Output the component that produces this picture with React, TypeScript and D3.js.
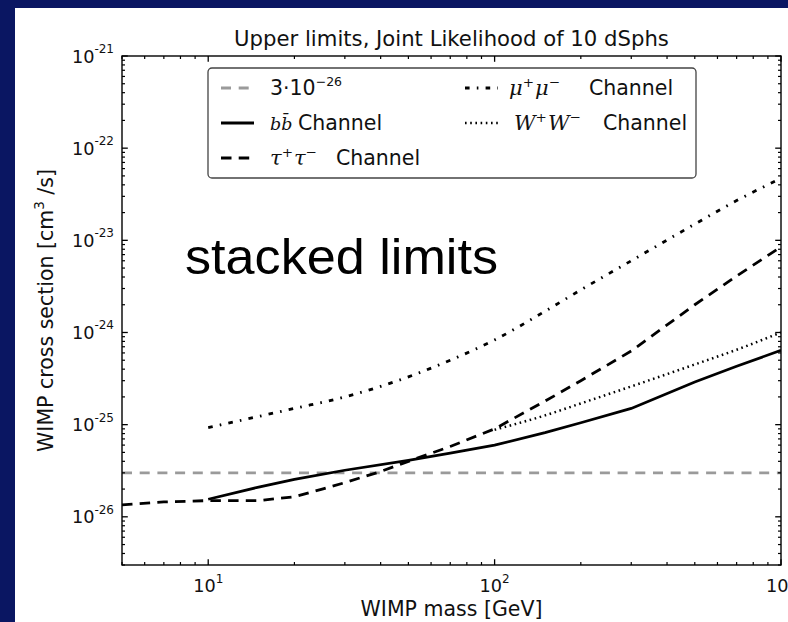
import React from "react";
import * as d3 from "d3";

const W = 788;
const H = 622;

// ---- data ----
const massBB = [10, 15, 20, 30, 50, 70, 100, 150, 200, 300, 500, 700, 1000];
const sigmaBB = [1.55e-26, 2.1e-26, 2.55e-26, 3.2e-26, 4.1e-26, 4.9e-26, 6.0e-26, 8.2e-26, 1.05e-25, 1.5e-25, 2.9e-25, 4.3e-25, 6.4e-25];
const massTau = [5, 7, 10, 15, 20, 25, 30, 40, 50, 70, 100, 150, 200, 300, 500, 700, 1000];
const sigmaTau = [1.35e-26, 1.45e-26, 1.5e-26, 1.5e-26, 1.65e-26, 2.0e-26, 2.35e-26, 3.1e-26, 4.0e-26, 5.8e-26, 9.0e-26, 1.8e-25, 3.0e-25, 6.3e-25, 2.0e-24, 4.1e-24, 8.5e-24];
const massMu = [10, 20, 30, 40, 50, 70, 100, 150, 200, 300, 500, 700, 1000];
const sigmaMu = [9.3e-26, 1.5e-25, 2.0e-25, 2.6e-25, 3.3e-25, 5.0e-25, 8.3e-25, 1.7e-24, 2.9e-24, 6.0e-24, 1.5e-23, 2.7e-23, 4.7e-23];
const massWW = [100, 150, 200, 300, 500, 700, 1000];
const sigmaWW = [8.8e-26, 1.26e-25, 1.7e-25, 2.6e-25, 4.5e-25, 6.5e-25, 1.0e-24];
const referenceSigma = 3e-26;
const xDomain = [5, 1000];
const yDomain = [3e-27, 1e-21];
const xTickExps = [1, 2, 3];
const yTickExps = [-21, -22, -23, -24, -25, -26];

const title = "Upper limits, Joint Likelihood of 10 dSphs";
const xLabel = "WIMP mass [GeV]";
const annotation = "stacked limits";

const NAVY = "#0a1662";
const FONT = "'DejaVu Sans', sans-serif";
const MATH = "'DejaVu Serif', serif";

const M = { left: 122, right: 781, top: 56, bottom: 565 };

const GRAY_DASH = "10,7.7";
const TAU_DASH = "10.5,7.2";
const MU_DASH = "4.6,7.2,1.6,7.2";
const WW_DASH = "1.6,3.6";

export default function App() {
  const x = d3.scaleLog().domain(xDomain).range([M.left, M.right]);
  const y = d3.scaleLog().domain(yDomain).range([M.bottom, M.top]);

  const line = d3
    .line<[number, number]>()
    .x((d) => x(d[0]))
    .y((d) => y(d[1]));
  const smooth = d3
    .line<[number, number]>()
    .x((d) => x(d[0]))
    .y((d) => y(d[1]))
    .curve(d3.curveMonotoneX);

  const zip = (a: number[], b: number[]) => a.map((v, i) => [v, b[i]] as [number, number]);

  const xMinor: number[] = [];
  for (let e = 0; e <= 2; e++) for (let k = 2; k <= 9; k++) {
    const v = k * Math.pow(10, e);
    if (v >= xDomain[0] && v <= xDomain[1]) xMinor.push(v);
  }
  const yMinor: number[] = [];
  for (let e = -27; e <= -22; e++) for (let k = 2; k <= 9; k++) {
    const v = k * Math.pow(10, e);
    if (v >= yDomain[0] * 0.999 && v <= yDomain[1]) yMinor.push(v);
  }

  const major = 5.8;
  const minor = 3;
  const TICK_FS = 17.7;
  const SUP_FS = 12;

  const legendX = 208, legendY = 68, legendW = 488, legendH = 110;
  const rowY = [88, 123, 158];
  const c1s = 221, c1e = 254, c1t = 270;
  const c2s = 465, c2e = 498, c2t = 509;
  const LFS = 20.5;
  const LSUP = 13.5;
  const MFS = 21;

  const mathPair = (sym: string, xStart: number, yBase: number, chanX: number) => (
    <>
      <text x={xStart} y={yBase} fontFamily={MATH} fontStyle="italic" fontSize={MFS} fill="#111">
        {sym}
        <tspan dy={-8} fontStyle="normal" fontSize={LSUP}>+</tspan>
        <tspan dy={8} dx={1}>{sym}</tspan>
        <tspan dy={-8} fontStyle="normal" fontSize={LSUP}>−</tspan>
      </text>
      <text x={chanX} y={yBase} fontFamily={FONT} fontSize={LFS} fill="#111">Channel</text>
    </>
  );

  return (
    <div style={{ position: "fixed", left: 0, top: 0, width: W, height: H, overflow: "hidden" }}>
      <svg width={W} height={H} style={{ display: "block" }}>
        <rect x={0} y={0} width={W} height={H} fill={NAVY} />
        <rect x={15} y={8} width={W - 15} height={H - 8} fill="#ffffff" />

        <defs>
          <clipPath id="plotclip">
            <rect x={M.left} y={M.top} width={M.right - M.left} height={M.bottom - M.top} />
          </clipPath>
        </defs>

        <text x={(M.left + M.right) / 2} y={45.5} textAnchor="middle" fontFamily={FONT} fontSize={21.2} fill="#111">
          {title}
        </text>

        <g clipPath="url(#plotclip)" fill="none">
          <line x1={M.left} x2={M.right} y1={y(referenceSigma)} y2={y(referenceSigma)} stroke="#9a9a9a" strokeWidth={2.8} strokeDasharray={GRAY_DASH} />
          <path d={smooth(zip(massMu, sigmaMu)) || ""} stroke="#000" strokeWidth={2.8} strokeDasharray={MU_DASH} />
          <path d={smooth(zip(massWW, sigmaWW)) || ""} stroke="#000" strokeWidth={2.5} strokeDasharray={WW_DASH} />
          <path d={line(zip(massTau, sigmaTau)) || ""} stroke="#000" strokeWidth={2.8} strokeDasharray={TAU_DASH} />
          <path d={line(zip(massBB, sigmaBB)) || ""} stroke="#000" strokeWidth={2.7} />
        </g>

        <rect x={M.left} y={M.top} width={M.right - M.left} height={M.bottom - M.top} fill="none" stroke="#000" strokeWidth={1.4} />

        {xTickExps.map((e) => {
          const px = x(Math.pow(10, e));
          return (
            <g key={"xt" + e}>
              <line x1={px} x2={px} y1={M.bottom} y2={M.bottom - major} stroke="#000" strokeWidth={1.3} />
              <line x1={px} x2={px} y1={M.top} y2={M.top + major} stroke="#000" strokeWidth={1.3} />
              <text x={px} y={592} textAnchor="middle" fontFamily={FONT} fontSize={TICK_FS} fill="#111">
                10<tspan dy={-9} fontSize={SUP_FS}>{e}</tspan>
              </text>
            </g>
          );
        })}
        {xMinor.map((v) => (
          <g key={"xm" + v}>
            <line x1={x(v)} x2={x(v)} y1={M.bottom} y2={M.bottom - minor} stroke="#000" strokeWidth={1.2} />
            <line x1={x(v)} x2={x(v)} y1={M.top} y2={M.top + minor} stroke="#000" strokeWidth={1.2} />
          </g>
        ))}

        {yTickExps.map((e) => {
          const py = y(Math.pow(10, e));
          return (
            <g key={"yt" + e}>
              <line x1={M.left} x2={M.left + major} y1={py} y2={py} stroke="#000" strokeWidth={1.3} />
              <line x1={M.right} x2={M.right - major} y1={py} y2={py} stroke="#000" strokeWidth={1.3} />
              <text x={114} y={py + 6.5} textAnchor="end" fontFamily={FONT} fontSize={TICK_FS} fill="#111">
                10<tspan dy={-9.5} fontSize={SUP_FS}>{"-" + String(-e)}</tspan>
              </text>
            </g>
          );
        })}
        {yMinor.map((v) => (
          <g key={"ym" + v}>
            <line x1={M.left} x2={M.left + minor} y1={y(v)} y2={y(v)} stroke="#000" strokeWidth={1.2} />
            <line x1={M.right} x2={M.right - minor} y1={y(v)} y2={y(v)} stroke="#000" strokeWidth={1.2} />
          </g>
        ))}

        <text x={(M.left + M.right) / 2} y={616} textAnchor="middle" fontFamily={FONT} fontSize={20.5} fill="#111">
          {xLabel}
        </text>
        <text transform={`translate(53, ${(M.top + M.bottom) / 2}) rotate(-90)`} textAnchor="middle" fontFamily={FONT} fontSize={20.5} fill="#111">
          WIMP cross section [cm<tspan dy={-9} fontSize={13.5}>3</tspan><tspan dy={9}> /s]</tspan>
        </text>

        <text x={185} y={274} fontFamily="'Liberation Sans', Arial, sans-serif" fontSize={50} fill="#000" textLength={313} lengthAdjust="spacingAndGlyphs">
          {annotation}
        </text>

        <rect x={legendX} y={legendY} width={legendW} height={legendH} rx={4} fill="#fff" stroke="#444" strokeWidth={1.3} />

        <line x1={c1s} x2={c1e} y1={rowY[0]} y2={rowY[0]} stroke="#9a9a9a" strokeWidth={2.8} strokeDasharray={GRAY_DASH} />
        <text x={c1t} y={rowY[0] + 7} fontFamily={FONT} fontSize={LFS} fill="#111">
          3·10<tspan dy={-9} fontSize={LSUP - 1}>−26</tspan>
        </text>

        <line x1={c1s} x2={c1e} y1={rowY[1]} y2={rowY[1]} stroke="#000" strokeWidth={2.8} />
        <text x={c1t} y={rowY[1] + 7} fontFamily={MATH} fontStyle="italic" fontSize={LFS - 3} fill="#111">
          bb̄
        </text>
        <text x={298} y={rowY[1] + 7} fontFamily={FONT} fontSize={LFS} fill="#111">Channel</text>

        <line x1={c1s} x2={c1e} y1={rowY[2]} y2={rowY[2]} stroke="#000" strokeWidth={2.8} strokeDasharray={TAU_DASH} />
        {mathPair("τ", c1t, rowY[2] + 7, 336)}

        <line x1={c2s} x2={c2e} y1={rowY[0]} y2={rowY[0]} stroke="#000" strokeWidth={2.8} strokeDasharray={MU_DASH} />
        {mathPair("μ", c2t, rowY[0] + 7, 589)}

        <line x1={c2s} x2={c2e} y1={rowY[1]} y2={rowY[1]} stroke="#000" strokeWidth={2.5} strokeDasharray={WW_DASH} />
        {mathPair("W", c2t + 5, rowY[1] + 7, 603)}
      </svg>
    </div>
  );
}
